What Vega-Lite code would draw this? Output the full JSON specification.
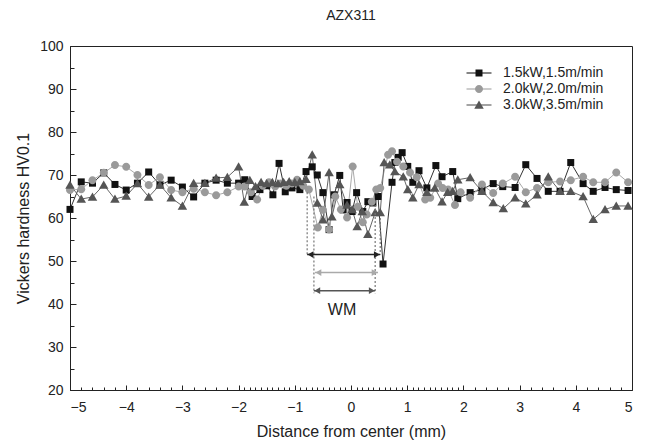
{
"$schema": "https://vega.github.io/schema/vega-lite/v6.json",
"width": 562, "height": 344,
"autosize": "none",
"padding": {"left": 70, "top": 46, "right": 18, "bottom": 53},
"background": "white",
"title": {"text": "AZX311", "fontSize": 14, "font": "Liberation Sans", "fontWeight": "normal", "color": "#222", "anchor": "middle", "offset": 16},
"config": {
  "view": {"stroke": "#222", "strokeWidth": 1},
  "axis": {"grid": false, "labelFont": "Liberation Sans", "titleFont": "Liberation Sans", "labelColor": "#222", "titleColor": "#222", "tickColor": "#222", "domainColor": "#222", "titleFontWeight": "normal", "tickWidth": 1}
},
"datasets": {
"pts": [
{"x":-5.0,"hv":62.0,"s":"1.5kW,1.5m/min"},{"x":-4.8,"hv":68.4,"s":"1.5kW,1.5m/min"},{"x":-4.6,"hv":68.1,"s":"1.5kW,1.5m/min"},{"x":-4.4,"hv":70.5,"s":"1.5kW,1.5m/min"},{"x":-4.2,"hv":67.8,"s":"1.5kW,1.5m/min"},{"x":-4.0,"hv":66.5,"s":"1.5kW,1.5m/min"},{"x":-3.8,"hv":68.1,"s":"1.5kW,1.5m/min"},{"x":-3.6,"hv":70.7,"s":"1.5kW,1.5m/min"},{"x":-3.4,"hv":67.7,"s":"1.5kW,1.5m/min"},{"x":-3.2,"hv":68.8,"s":"1.5kW,1.5m/min"},{"x":-3.0,"hv":67.2,"s":"1.5kW,1.5m/min"},{"x":-2.8,"hv":64.9,"s":"1.5kW,1.5m/min"},{"x":-2.6,"hv":68.1,"s":"1.5kW,1.5m/min"},{"x":-2.4,"hv":68.8,"s":"1.5kW,1.5m/min"},{"x":-2.2,"hv":68.1,"s":"1.5kW,1.5m/min"},{"x":-2.0,"hv":68.1,"s":"1.5kW,1.5m/min"},{"x":-1.89,"hv":68.9,"s":"1.5kW,1.5m/min"},{"x":-1.76,"hv":65.0,"s":"1.5kW,1.5m/min"},{"x":-1.62,"hv":66.6,"s":"1.5kW,1.5m/min"},{"x":-1.5,"hv":67.5,"s":"1.5kW,1.5m/min"},{"x":-1.39,"hv":65.4,"s":"1.5kW,1.5m/min"},{"x":-1.28,"hv":72.7,"s":"1.5kW,1.5m/min"},{"x":-1.17,"hv":66.1,"s":"1.5kW,1.5m/min"},{"x":-1.05,"hv":67.0,"s":"1.5kW,1.5m/min"},{"x":-0.91,"hv":66.6,"s":"1.5kW,1.5m/min"},{"x":-0.8,"hv":70.8,"s":"1.5kW,1.5m/min"},{"x":-0.69,"hv":71.9,"s":"1.5kW,1.5m/min"},{"x":-0.6,"hv":70.0,"s":"1.5kW,1.5m/min"},{"x":-0.5,"hv":65.9,"s":"1.5kW,1.5m/min"},{"x":-0.39,"hv":57.3,"s":"1.5kW,1.5m/min"},{"x":-0.3,"hv":65.4,"s":"1.5kW,1.5m/min"},{"x":-0.2,"hv":69.9,"s":"1.5kW,1.5m/min"},{"x":-0.14,"hv":61.9,"s":"1.5kW,1.5m/min"},{"x":-0.07,"hv":63.6,"s":"1.5kW,1.5m/min"},{"x":0.02,"hv":61.5,"s":"1.5kW,1.5m/min"},{"x":0.1,"hv":65.9,"s":"1.5kW,1.5m/min"},{"x":0.21,"hv":61.5,"s":"1.5kW,1.5m/min"},{"x":0.3,"hv":63.8,"s":"1.5kW,1.5m/min"},{"x":0.39,"hv":63.5,"s":"1.5kW,1.5m/min"},{"x":0.48,"hv":65.0,"s":"1.5kW,1.5m/min"},{"x":0.57,"hv":49.3,"s":"1.5kW,1.5m/min"},{"x":0.73,"hv":68.3,"s":"1.5kW,1.5m/min"},{"x":0.78,"hv":72.9,"s":"1.5kW,1.5m/min"},{"x":0.84,"hv":74.1,"s":"1.5kW,1.5m/min"},{"x":0.91,"hv":75.2,"s":"1.5kW,1.5m/min"},{"x":1.01,"hv":72.0,"s":"1.5kW,1.5m/min"},{"x":1.1,"hv":68.3,"s":"1.5kW,1.5m/min"},{"x":1.21,"hv":71.0,"s":"1.5kW,1.5m/min"},{"x":1.35,"hv":67.0,"s":"1.5kW,1.5m/min"},{"x":1.51,"hv":72.2,"s":"1.5kW,1.5m/min"},{"x":1.62,"hv":69.6,"s":"1.5kW,1.5m/min"},{"x":1.81,"hv":70.8,"s":"1.5kW,1.5m/min"},{"x":1.9,"hv":64.5,"s":"1.5kW,1.5m/min"},{"x":2.12,"hv":65.9,"s":"1.5kW,1.5m/min"},{"x":2.33,"hv":66.6,"s":"1.5kW,1.5m/min"},{"x":2.53,"hv":68.0,"s":"1.5kW,1.5m/min"},{"x":2.7,"hv":67.3,"s":"1.5kW,1.5m/min"},{"x":2.92,"hv":67.1,"s":"1.5kW,1.5m/min"},{"x":3.11,"hv":72.4,"s":"1.5kW,1.5m/min"},{"x":3.31,"hv":69.2,"s":"1.5kW,1.5m/min"},{"x":3.51,"hv":66.2,"s":"1.5kW,1.5m/min"},{"x":3.72,"hv":66.2,"s":"1.5kW,1.5m/min"},{"x":3.91,"hv":72.9,"s":"1.5kW,1.5m/min"},{"x":4.13,"hv":68.0,"s":"1.5kW,1.5m/min"},{"x":4.31,"hv":66.2,"s":"1.5kW,1.5m/min"},{"x":4.52,"hv":67.1,"s":"1.5kW,1.5m/min"},{"x":4.72,"hv":66.6,"s":"1.5kW,1.5m/min"},{"x":4.93,"hv":66.4,"s":"1.5kW,1.5m/min"},
{"x":-5.0,"hv":66.5,"s":"2.0kW,2.0m/min"},{"x":-4.8,"hv":66.7,"s":"2.0kW,2.0m/min"},{"x":-4.6,"hv":68.8,"s":"2.0kW,2.0m/min"},{"x":-4.4,"hv":70.5,"s":"2.0kW,2.0m/min"},{"x":-4.2,"hv":72.3,"s":"2.0kW,2.0m/min"},{"x":-4.0,"hv":71.9,"s":"2.0kW,2.0m/min"},{"x":-3.8,"hv":70.0,"s":"2.0kW,2.0m/min"},{"x":-3.6,"hv":67.7,"s":"2.0kW,2.0m/min"},{"x":-3.4,"hv":69.5,"s":"2.0kW,2.0m/min"},{"x":-3.2,"hv":66.5,"s":"2.0kW,2.0m/min"},{"x":-3.0,"hv":66.0,"s":"2.0kW,2.0m/min"},{"x":-2.8,"hv":66.8,"s":"2.0kW,2.0m/min"},{"x":-2.6,"hv":66.0,"s":"2.0kW,2.0m/min"},{"x":-2.4,"hv":65.3,"s":"2.0kW,2.0m/min"},{"x":-2.2,"hv":66.0,"s":"2.0kW,2.0m/min"},{"x":-2.0,"hv":67.3,"s":"2.0kW,2.0m/min"},{"x":-1.89,"hv":67.3,"s":"2.0kW,2.0m/min"},{"x":-1.78,"hv":66.0,"s":"2.0kW,2.0m/min"},{"x":-1.67,"hv":64.3,"s":"2.0kW,2.0m/min"},{"x":-1.57,"hv":67.5,"s":"2.0kW,2.0m/min"},{"x":-1.46,"hv":68.3,"s":"2.0kW,2.0m/min"},{"x":-1.35,"hv":67.3,"s":"2.0kW,2.0m/min"},{"x":-1.25,"hv":68.0,"s":"2.0kW,2.0m/min"},{"x":-1.15,"hv":67.5,"s":"2.0kW,2.0m/min"},{"x":-1.05,"hv":68.0,"s":"2.0kW,2.0m/min"},{"x":-0.96,"hv":68.9,"s":"2.0kW,2.0m/min"},{"x":-0.85,"hv":67.5,"s":"2.0kW,2.0m/min"},{"x":-0.75,"hv":66.6,"s":"2.0kW,2.0m/min"},{"x":-0.59,"hv":57.8,"s":"2.0kW,2.0m/min"},{"x":-0.5,"hv":61.9,"s":"2.0kW,2.0m/min"},{"x":-0.39,"hv":57.3,"s":"2.0kW,2.0m/min"},{"x":-0.28,"hv":65.0,"s":"2.0kW,2.0m/min"},{"x":-0.18,"hv":62.0,"s":"2.0kW,2.0m/min"},{"x":-0.07,"hv":60.1,"s":"2.0kW,2.0m/min"},{"x":0.03,"hv":72.0,"s":"2.0kW,2.0m/min"},{"x":0.12,"hv":62.6,"s":"2.0kW,2.0m/min"},{"x":0.21,"hv":59.0,"s":"2.0kW,2.0m/min"},{"x":0.28,"hv":60.8,"s":"2.0kW,2.0m/min"},{"x":0.37,"hv":63.8,"s":"2.0kW,2.0m/min"},{"x":0.45,"hv":66.6,"s":"2.0kW,2.0m/min"},{"x":0.52,"hv":67.0,"s":"2.0kW,2.0m/min"},{"x":0.66,"hv":74.7,"s":"2.0kW,2.0m/min"},{"x":0.73,"hv":75.5,"s":"2.0kW,2.0m/min"},{"x":0.82,"hv":73.1,"s":"2.0kW,2.0m/min"},{"x":0.93,"hv":72.0,"s":"2.0kW,2.0m/min"},{"x":1.05,"hv":70.6,"s":"2.0kW,2.0m/min"},{"x":1.17,"hv":69.5,"s":"2.0kW,2.0m/min"},{"x":1.32,"hv":64.3,"s":"2.0kW,2.0m/min"},{"x":1.41,"hv":64.7,"s":"2.0kW,2.0m/min"},{"x":1.55,"hv":68.0,"s":"2.0kW,2.0m/min"},{"x":1.63,"hv":67.0,"s":"2.0kW,2.0m/min"},{"x":1.73,"hv":66.6,"s":"2.0kW,2.0m/min"},{"x":1.85,"hv":63.0,"s":"2.0kW,2.0m/min"},{"x":1.95,"hv":66.0,"s":"2.0kW,2.0m/min"},{"x":2.12,"hv":64.7,"s":"2.0kW,2.0m/min"},{"x":2.33,"hv":67.8,"s":"2.0kW,2.0m/min"},{"x":2.53,"hv":65.8,"s":"2.0kW,2.0m/min"},{"x":2.7,"hv":68.0,"s":"2.0kW,2.0m/min"},{"x":2.92,"hv":69.6,"s":"2.0kW,2.0m/min"},{"x":3.11,"hv":66.0,"s":"2.0kW,2.0m/min"},{"x":3.31,"hv":67.0,"s":"2.0kW,2.0m/min"},{"x":3.51,"hv":68.3,"s":"2.0kW,2.0m/min"},{"x":3.72,"hv":68.5,"s":"2.0kW,2.0m/min"},{"x":3.91,"hv":68.8,"s":"2.0kW,2.0m/min"},{"x":4.13,"hv":69.6,"s":"2.0kW,2.0m/min"},{"x":4.31,"hv":68.3,"s":"2.0kW,2.0m/min"},{"x":4.52,"hv":68.3,"s":"2.0kW,2.0m/min"},{"x":4.72,"hv":70.6,"s":"2.0kW,2.0m/min"},{"x":4.93,"hv":68.3,"s":"2.0kW,2.0m/min"},
{"x":-5.0,"hv":67.7,"s":"3.0kW,3.5m/min"},{"x":-4.8,"hv":64.4,"s":"3.0kW,3.5m/min"},{"x":-4.6,"hv":64.9,"s":"3.0kW,3.5m/min"},{"x":-4.4,"hv":67.7,"s":"3.0kW,3.5m/min"},{"x":-4.2,"hv":64.4,"s":"3.0kW,3.5m/min"},{"x":-4.0,"hv":65.1,"s":"3.0kW,3.5m/min"},{"x":-3.8,"hv":68.0,"s":"3.0kW,3.5m/min"},{"x":-3.6,"hv":64.9,"s":"3.0kW,3.5m/min"},{"x":-3.4,"hv":67.7,"s":"3.0kW,3.5m/min"},{"x":-3.2,"hv":64.7,"s":"3.0kW,3.5m/min"},{"x":-3.0,"hv":62.8,"s":"3.0kW,3.5m/min"},{"x":-2.8,"hv":68.1,"s":"3.0kW,3.5m/min"},{"x":-2.6,"hv":68.1,"s":"3.0kW,3.5m/min"},{"x":-2.4,"hv":69.3,"s":"3.0kW,3.5m/min"},{"x":-2.2,"hv":69.5,"s":"3.0kW,3.5m/min"},{"x":-2.0,"hv":71.9,"s":"3.0kW,3.5m/min"},{"x":-1.9,"hv":63.7,"s":"3.0kW,3.5m/min"},{"x":-1.8,"hv":68.8,"s":"3.0kW,3.5m/min"},{"x":-1.7,"hv":67.3,"s":"3.0kW,3.5m/min"},{"x":-1.6,"hv":68.3,"s":"3.0kW,3.5m/min"},{"x":-1.5,"hv":68.0,"s":"3.0kW,3.5m/min"},{"x":-1.4,"hv":68.3,"s":"3.0kW,3.5m/min"},{"x":-1.3,"hv":68.0,"s":"3.0kW,3.5m/min"},{"x":-1.2,"hv":68.3,"s":"3.0kW,3.5m/min"},{"x":-1.1,"hv":68.5,"s":"3.0kW,3.5m/min"},{"x":-1.0,"hv":68.3,"s":"3.0kW,3.5m/min"},{"x":-0.91,"hv":68.5,"s":"3.0kW,3.5m/min"},{"x":-0.8,"hv":69.0,"s":"3.0kW,3.5m/min"},{"x":-0.69,"hv":74.7,"s":"3.0kW,3.5m/min"},{"x":-0.6,"hv":63.5,"s":"3.0kW,3.5m/min"},{"x":-0.5,"hv":59.6,"s":"3.0kW,3.5m/min"},{"x":-0.39,"hv":70.6,"s":"3.0kW,3.5m/min"},{"x":-0.34,"hv":60.3,"s":"3.0kW,3.5m/min"},{"x":-0.2,"hv":67.8,"s":"3.0kW,3.5m/min"},{"x":-0.07,"hv":63.0,"s":"3.0kW,3.5m/min"},{"x":0.02,"hv":62.0,"s":"3.0kW,3.5m/min"},{"x":0.11,"hv":58.0,"s":"3.0kW,3.5m/min"},{"x":0.2,"hv":61.5,"s":"3.0kW,3.5m/min"},{"x":0.3,"hv":56.2,"s":"3.0kW,3.5m/min"},{"x":0.43,"hv":61.3,"s":"3.0kW,3.5m/min"},{"x":0.52,"hv":61.3,"s":"3.0kW,3.5m/min"},{"x":0.59,"hv":72.9,"s":"3.0kW,3.5m/min"},{"x":0.69,"hv":72.4,"s":"3.0kW,3.5m/min"},{"x":0.78,"hv":70.8,"s":"3.0kW,3.5m/min"},{"x":0.93,"hv":69.6,"s":"3.0kW,3.5m/min"},{"x":1.01,"hv":66.6,"s":"3.0kW,3.5m/min"},{"x":1.1,"hv":64.7,"s":"3.0kW,3.5m/min"},{"x":1.21,"hv":67.8,"s":"3.0kW,3.5m/min"},{"x":1.35,"hv":66.0,"s":"3.0kW,3.5m/min"},{"x":1.49,"hv":67.0,"s":"3.0kW,3.5m/min"},{"x":1.62,"hv":63.8,"s":"3.0kW,3.5m/min"},{"x":1.72,"hv":66.0,"s":"3.0kW,3.5m/min"},{"x":1.81,"hv":66.2,"s":"3.0kW,3.5m/min"},{"x":1.9,"hv":68.9,"s":"3.0kW,3.5m/min"},{"x":2.12,"hv":69.4,"s":"3.0kW,3.5m/min"},{"x":2.33,"hv":66.2,"s":"3.0kW,3.5m/min"},{"x":2.53,"hv":63.6,"s":"3.0kW,3.5m/min"},{"x":2.71,"hv":62.2,"s":"3.0kW,3.5m/min"},{"x":2.92,"hv":64.7,"s":"3.0kW,3.5m/min"},{"x":3.11,"hv":63.3,"s":"3.0kW,3.5m/min"},{"x":3.31,"hv":65.4,"s":"3.0kW,3.5m/min"},{"x":3.51,"hv":69.6,"s":"3.0kW,3.5m/min"},{"x":3.72,"hv":66.2,"s":"3.0kW,3.5m/min"},{"x":3.91,"hv":66.2,"s":"3.0kW,3.5m/min"},{"x":4.13,"hv":65.0,"s":"3.0kW,3.5m/min"},{"x":4.31,"hv":59.7,"s":"3.0kW,3.5m/min"},{"x":4.52,"hv":62.0,"s":"3.0kW,3.5m/min"},{"x":4.72,"hv":62.8,"s":"3.0kW,3.5m/min"},{"x":4.93,"hv":62.8,"s":"3.0kW,3.5m/min"}
],
"dots": [
{"x":-0.78,"y1":66.0,"y2":51.5},{"x":-0.66,"y1":65.0,"y2":42.5},{"x":0.43,"y1":63.0,"y2":42.5},{"x":0.52,"y1":60.0,"y2":51.5}
],
"arrows": [
{"x1":-0.78,"x2":0.52,"y":51.5,"c":"#222222"},{"x1":-0.64,"x2":0.48,"y":47.3,"c":"#aaaaaa"},{"x1":-0.66,"x2":0.43,"y":43.1,"c":"#555555"}
],
"heads": [
{"x":-0.72,"y":51.5,"c":"#222222","d":"triangle-left"},{"x":0.46,"y":51.5,"c":"#222222","d":"triangle-right"},
{"x":-0.58,"y":47.3,"c":"#aaaaaa","d":"triangle-left"},{"x":0.42,"y":47.3,"c":"#aaaaaa","d":"triangle-right"},
{"x":-0.6,"y":43.1,"c":"#555555","d":"triangle-left"},{"x":0.37,"y":43.1,"c":"#555555","d":"triangle-right"}
],
"labels": [{"x":-0.16,"y":38.5,"t":"WM"}]
},
"layer": [
{
  "data": {"name": "pts"},
  "mark": {"type": "line", "strokeWidth": 1},
  "encoding": {
    "x": {"field": "x", "type": "quantitative", "scale": {"domain": [-5, 5], "nice": false},
      "axis": {"orient": "bottom", "values": [-5,-4,-3,-2,-1,0,1,2,3,4,5], "tickSize": -5, "labelPadding": 15, "labelFontSize": 14, "title": "Distance from center (mm)", "titleFontSize": 16, "titlePadding": 9}},
    "y": {"field": "hv", "type": "quantitative", "scale": {"domain": [20, 100], "nice": false},
      "axis": {"orient": "left", "values": [20,30,40,50,60,70,80,90,100], "tickSize": -6, "labelPadding": 13, "labelFontSize": 14, "title": "Vickers hardness HV0.1", "titleFontSize": 16, "titlePadding": 8}},
    "stroke": {"field": "s", "type": "nominal",
      "scale": {"domain": ["1.5kW,1.5m/min","2.0kW,2.0m/min","3.0kW,3.5m/min"], "range": ["#333333","#aaaaaa","#666666"]},
      "legend": {"orient": "none", "legendX": 402, "legendY": 20, "title": null, "symbolType": "M-2.5,0H2.5", "symbolSize": 100, "symbolStrokeWidth": 1.2, "labelFontSize": 14, "labelFont": "Liberation Sans", "labelColor": "#222", "labelOffset": 17, "padding": 0, "rowPadding": 2}}
  }
},
{
  "data": {"name": "pts"},
  "mark": {"type": "point", "filled": true, "size": 100, "opacity": 1},
  "encoding": {
    "x": {"field": "x", "type": "quantitative",
      "axis": {"orient": "bottom", "values": [-4.8,-4.6,-4.4,-4.2,-3.8,-3.6,-3.4,-3.2,-2.8,-2.6,-2.4,-2.2,-1.9,-1.8,-1.7,-1.6,-1.5,-1.4,-1.3,-1.2,-1.1,-0.9,-0.8,-0.7,-0.6,-0.5,-0.4,-0.3,-0.2,-0.1,0.1,0.2,0.3,0.4,0.5,0.6,0.7,0.8,0.9,1.1,1.2,1.3,1.4,1.5,1.6,1.7,1.8,1.9,2.2,2.4,2.6,2.8,3.2,3.4,3.6,3.8,4.2,4.4,4.6,4.8], "tickSize": -3, "labels": false, "domain": false, "title": null}},
    "y": {"field": "hv", "type": "quantitative",
      "axis": {"orient": "left", "values": [25,35,45,55,65,75,85,95], "tickSize": -4, "labels": false, "domain": false, "title": null}},
    "color": {"field": "s", "type": "nominal", "scale": {"range": ["#111111","#9a9a9a","#555555"]},
      "legend": {"orient": "none", "legendX": 402, "legendY": 20, "title": null, "symbolSize": 100, "symbolStrokeWidth": 0, "labelFontSize": 14, "labelFont": "Liberation Sans", "labelOpacity": 0, "labelOffset": 17, "padding": 0, "rowPadding": 2}},
    "shape": {"field": "s", "type": "nominal",
      "scale": {"range": ["M-0.7,-0.7H0.7V0.7H-0.7Z", "M0.8,0A0.8,0.8,0,1,1,-0.8,0A0.8,0.8,0,1,1,0.8,0Z", "M0,-0.9L0.95,0.75H-0.95Z"]},
      "legend": {"orient": "none", "legendX": 402, "legendY": 20, "title": null, "symbolSize": 100, "symbolStrokeWidth": 0, "labelFontSize": 14, "labelFont": "Liberation Sans", "labelOpacity": 0, "labelOffset": 17, "padding": 0, "rowPadding": 2}}
  }
},
{
  "data": {"name": "dots"},
  "mark": {"type": "rule", "strokeDash": [2, 2], "color": "#777777", "strokeWidth": 1.2},
  "encoding": {
    "x": {"field": "x", "type": "quantitative", "axis": null},
    "y": {"field": "y1", "type": "quantitative", "axis": null},
    "y2": {"field": "y2"}
  }
},
{
  "data": {"name": "arrows"},
  "mark": {"type": "rule", "strokeWidth": 1.5},
  "encoding": {
    "x": {"field": "x1", "type": "quantitative", "axis": null},
    "x2": {"field": "x2"},
    "y": {"field": "y", "type": "quantitative", "axis": null},
    "color": {"field": "c", "type": "nominal", "scale": null}
  }
},
{
  "data": {"name": "heads"},
  "mark": {"type": "point", "filled": true, "size": 45, "opacity": 1},
  "encoding": {
    "x": {"field": "x", "type": "quantitative", "axis": null},
    "y": {"field": "y", "type": "quantitative", "axis": null},
    "color": {"field": "c", "type": "nominal", "scale": null},
    "shape": {"field": "d", "type": "nominal", "scale": null}
  }
},
{
  "data": {"name": "labels"},
  "mark": {"type": "text", "fontSize": 16, "font": "Liberation Sans", "color": "#222"},
  "encoding": {
    "x": {"field": "x", "type": "quantitative", "axis": null},
    "y": {"field": "y", "type": "quantitative", "axis": null},
    "text": {"field": "t"}
  }
}
],
"resolve": {"axis": {"x": "independent", "y": "independent"}}
}
